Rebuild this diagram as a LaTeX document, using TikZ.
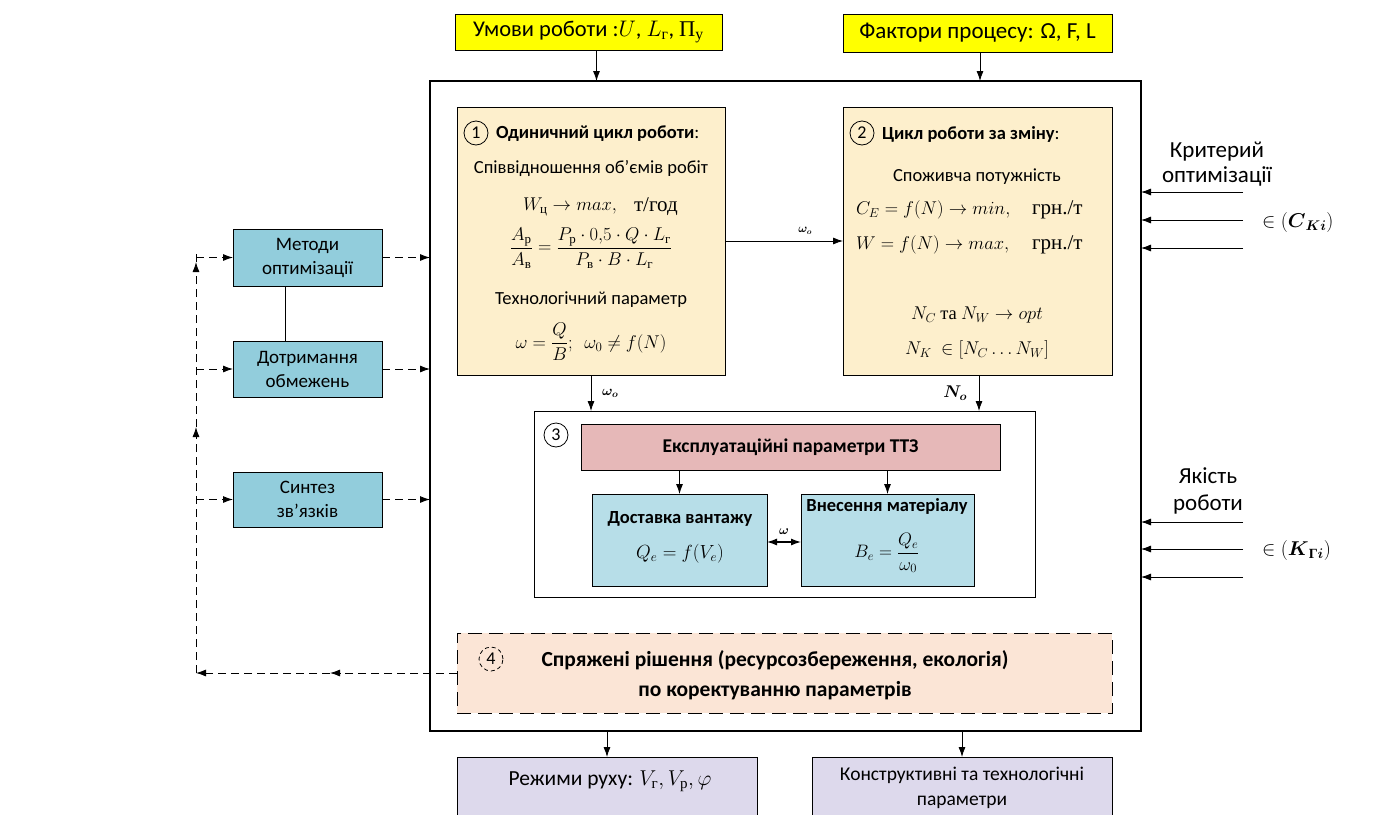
\RequirePackage{fix-cm}
\documentclass[tikz,border=0pt]{standalone}
\usepackage{amsmath}
\usepackage[no-math]{fontspec}
\setmainfont{Carlito}
\newfontfamily\serifcyr{Liberation Serif}
\usetikzlibrary{arrows.meta}
\newcommand\cyrt[1]{\text{\serifcyr #1}}
\newcommand\fsz[2]{\fontsize{#1}{#2}\selectfont}
\definecolor{ylw}{RGB}{255,255,0}
\definecolor{beige}{RGB}{253,239,204}
\definecolor{pinkb}{RGB}{230,184,184}
\definecolor{lblue}{RGB}{183,222,232}
\definecolor{tealb}{RGB}{146,205,220}
\definecolor{peach}{RGB}{251,229,214}
\definecolor{lav}{RGB}{221,217,236}
\begin{document}
\begin{tikzpicture}[x=1pt,y=-1pt,
  every node/.style={inner sep=0pt,outer sep=0pt},
  arr/.style={-{Latex[length=10pt,width=7pt]},line width=0.8pt},
  darr/.style={-{Latex[length=10pt,width=7pt]},line width=0.9pt,dash pattern=on 8pt off 5pt},
  dline/.style={line width=0.9pt,dash pattern=on 8pt off 5pt},
  ybox/.style={draw,line width=0.8pt,fill=ylw},
  bgbox/.style={draw,line width=0.8pt,fill=beige},
  tbox/.style={draw,line width=0.8pt,fill=tealb,align=center,font=\fsz{19}{24}},
  lbbox/.style={draw,line width=0.8pt,fill=lblue},
  lavbox/.style={draw,line width=0.8pt,fill=lav},
  num/.style={draw,circle,line width=0.8pt,minimum size=24pt,font=\fsz{18}{20}},
  txt/.style={font=\fsz{18.5}{22}},
  sv/.style={font=\fsz{21}{24}\serifcyr},
  rtxt/.style={font=\fsz{23}{25}},
]
\useasboundingbox (0,0) rectangle (1392,814);
\fill[white] (0,0) rectangle (1392,814);

% main frame
\node[draw,line width=1.6pt,minimum width=711pt,minimum height=650pt] (frame) at (785.5,406) {};

% top yellow boxes
\node[ybox,minimum width=267pt,minimum height=36pt,font=\fsz{22.5}{25}] (y1) at (588.5,32)
  {Умови роботи :$U$, $L_{\cyrt{г}}$, {\serifcyr П}$_{\cyrt{у}}$};
\node[ybox,minimum width=269pt,minimum height=38pt,font=\fsz{23}{25}] (y2) at (977.5,33)
  {Фактори процесу: Ω, F, L};
\draw[arr] ([xshift=8pt]y1.south) -- ([xshift=8pt]y1.south |- frame.north);
\draw[arr] ([xshift=2.5pt]y2.south) -- ([xshift=2.5pt]y2.south |- frame.north);

% box 1
\node[bgbox,minimum width=268pt,minimum height=268pt] (b1) at (591,241) {};
\node[num] (n1) at (476,133) {1};
\node[txt,anchor=west] (t1) at (496,134) {\textbf{Одиничний цикл роботи}:};
\node[txt] (t1a) at (591,168) {Співвідношення об’ємів робіт};
\node[txt,anchor=west] (t1b) at (523,207) {$W_{\cyrt{ц}}\to max,$};
\node[sv,anchor=west] (t1b2) at (634,207) {т/год};
\node[txt] (t1c) at (591,248) {$\dfrac{A_{\cyrt{р}}}{A_{\cyrt{в}}}=\dfrac{P_{\cyrt{р}}\cdot 0{,}5\cdot Q\cdot L_{\cyrt{г}}}{P_{\cyrt{в}}\cdot B\cdot L_{\cyrt{г}}}$};
\node[txt] (t1d) at (591,300) {Технологічний параметр};
\node[txt] (t1e) at (591,342) {$\omega=\dfrac{Q}{B};\ \ \omega_0\neq f(N)$};

% box 2
\node[bgbox,minimum width=269pt,minimum height=268pt] (b2) at (977.5,241) {};
\node[num] (n2) at (862,133) {2};
\node[txt,anchor=west] (t2) at (882,134) {\textbf{Цикл роботи за зміну}:};
\node[txt] (t2a) at (977,177) {Споживча потужність};
\node[txt,anchor=west] (t2b) at (856,210) {$C_E=f(N)\to min,$};
\node[sv,anchor=west] (t2b2) at (1032,210) {грн./т};
\node[txt,anchor=west] (t2c) at (856,245) {$W=f(N)\to max,$};
\node[sv,anchor=west] (t2c2) at (1032,245) {грн./т};
\node[txt] (t2d) at (977,315) {$N_C$ {\serifcyr та} $N_W\to opt$};
\node[txt] (t2e) at (977,350) {$N_K\ \in[N_C\dots N_W]$};

\draw[arr] (b1) -- node[pos=0.68,above=7pt,font=\fsz{12}{14}] {$\boldsymbol{\omega_o}$} (b2);

% box 3
\node[draw,line width=0.6pt,fill=white,minimum width=501pt,minimum height=186pt] (b3) at (784.5,504) {};
\draw[arr] (b1.south) -- node[right=11pt,font=\fsz{14}{16}] {$\boldsymbol{\omega_o}$} (b1.south |- b3.north);
\draw[arr] ([xshift=1.5pt]b2.south) -- node[left=12pt,font=\fsz{17}{19}] {$\boldsymbol{N_o}$} ([xshift=1.5pt]b2.south |- b3.north);
\node[num] (n3) at (556,435) {3};
\node[draw,line width=0.6pt,fill=pinkb,minimum width=419pt,minimum height=46pt,font=\fsz{19.5}{22}\bfseries] (pk) at (790.5,447) {Експлуатаційні параметри ТТЗ};
\node[lbbox,minimum width=175pt,minimum height=92pt] (bl1) at (679.5,540) {};
\node[lbbox,minimum width=173pt,minimum height=92pt] (bl2) at (887.5,540) {};
\node[font=\fsz{18.5}{20}\bfseries] (bl1t) at (680,519) {Доставка вантажу};
\node[font=\fsz{19}{20}] (bl1f) at (680,554) {$Q_e=f(V_e)$};
\node[font=\fsz{18.5}{20}\bfseries] (bl2t) at (887,506) {Внесення матеріалу};
\node[font=\fsz{18}{20}] (bl2f) at (887,553) {$B_e=\dfrac{Q_e}{\omega_0}$};
\draw[arr] (pk.south -| bl1.north) -- (bl1.north);
\draw[arr] (pk.south -| bl2.north) -- (bl2.north);
\draw[{Latex[length=10pt,width=7pt]}-{Latex[length=10pt,width=7pt]},line width=1.2pt] ([yshift=-2pt]bl1.east) -- node[above=8pt,font=\fsz{13}{15}] {$\boldsymbol{\omega}$} ([yshift=-2pt]bl2.west);

% box 4
\node[draw,line width=0.8pt,fill=peach,dash pattern=on 14pt off 7pt,minimum width=655pt,minimum height=80pt] (b4) at (784.5,673) {};
\node[num,dash pattern=on 4pt off 3pt] (n4) at (491,659) {4};
\node[font=\fsz{21.5}{30}\bfseries,align=center] (b4t) at (775,675) {Спряжені рішення (ресурсозбереження, екологія)\\по коректуванню параметрів};

% left boxes
\node[tbox,minimum width=149pt,minimum height=57pt] (m) at (307.5,257.5) {Методи\\оптимізації};
\node[tbox,minimum width=149pt,minimum height=56pt] (d) at (307.5,369) {Дотримання\\обмежень};
\node[tbox,minimum width=149pt,minimum height=55pt] (s) at (307.5,499.5) {Синтез\\зв'язків};
\draw[line width=0.8pt] ([xshift=-22.5pt]m.south) -- ([xshift=-22.5pt]d.north);
\draw[darr] (m.east) -- (m.east -| frame.west);
\draw[darr] (d.east) -- (d.east -| frame.west);
\draw[darr] (s.east) -- (s.east -| frame.west);

% feedback dashed line
\coordinate (dm) at (330,673);
\coordinate (c4) at (196,673);
\coordinate (cv1) at (196,427);
\coordinate (cv2) at (196,262);
\coordinate (ctop) at (196,253);
\coordinate (ch1) at (196,257.5);
\coordinate (ch2) at (196,369);
\coordinate (ch3) at (196,499.5);
\draw[darr] (b4.west) -- (dm);
\draw[darr] (dm) -- (c4);
\draw[darr] (c4) -- (cv1);
\draw[darr] (cv1) -- (cv2);
\draw[dline] (cv2) -- (ctop);
\draw[darr] (ch1) -- (m.west);
\draw[darr] (ch2) -- (d.west);
\draw[darr] (ch3) -- (s.west);

% right inputs
\node[rtxt,align=center] (kr) at (1217,164) {Критерий\\оптимізації};
\coordinate (r1) at (1243,192);
\coordinate (r2) at (1243,220);
\coordinate (r3) at (1243,248);
\draw[arr] (r1) -- (r1 -| frame.east);
\draw[arr] (r2) -- (r2 -| frame.east);
\draw[arr] (r3) -- (r3 -| frame.east);
\node[font=\fsz{20}{22},anchor=west] (ck) at (1262,222) {$\in(\boldsymbol{C}_{\boldsymbol{Ki}})$};

\node[rtxt,align=center,font=\fsz{23}{27}] (yr) at (1208,491) {Якість\\роботи};
\coordinate (q1) at (1243,522);
\coordinate (q2) at (1243,549);
\coordinate (q3) at (1243,577);
\draw[arr] (q1) -- (q1 -| frame.east);
\draw[arr] (q2) -- (q2 -| frame.east);
\draw[arr] (q3) -- (q3 -| frame.east);
\node[font=\fsz{20}{22},anchor=west] (kg) at (1262,550) {$\in(\boldsymbol{K}_{\text{\serifcyr\bfseries Г}\boldsymbol{i}})$};

% bottom boxes
\node[lavbox,minimum width=300pt,minimum height=73pt] (rr) at (607,793.5) {};
\node[lavbox,minimum width=300pt,minimum height=73pt] (kt) at (962,793.5) {};
\node[font=\fsz{21.5}{24}] (rrt) at (610,781) {Режими руху: $V_{\cyrt{г}}, V_{\cyrt{р}}, \varphi$};
\node[align=center,font=\fsz{19.5}{25}] (ktt) at (962,788) {Конструктивні та технологічні\\параметри};
\draw[arr] (frame.south -| rr.north) -- (rr.north);
\draw[arr] (frame.south -| kt.north) -- (kt.north);
\end{tikzpicture}
\end{document}
